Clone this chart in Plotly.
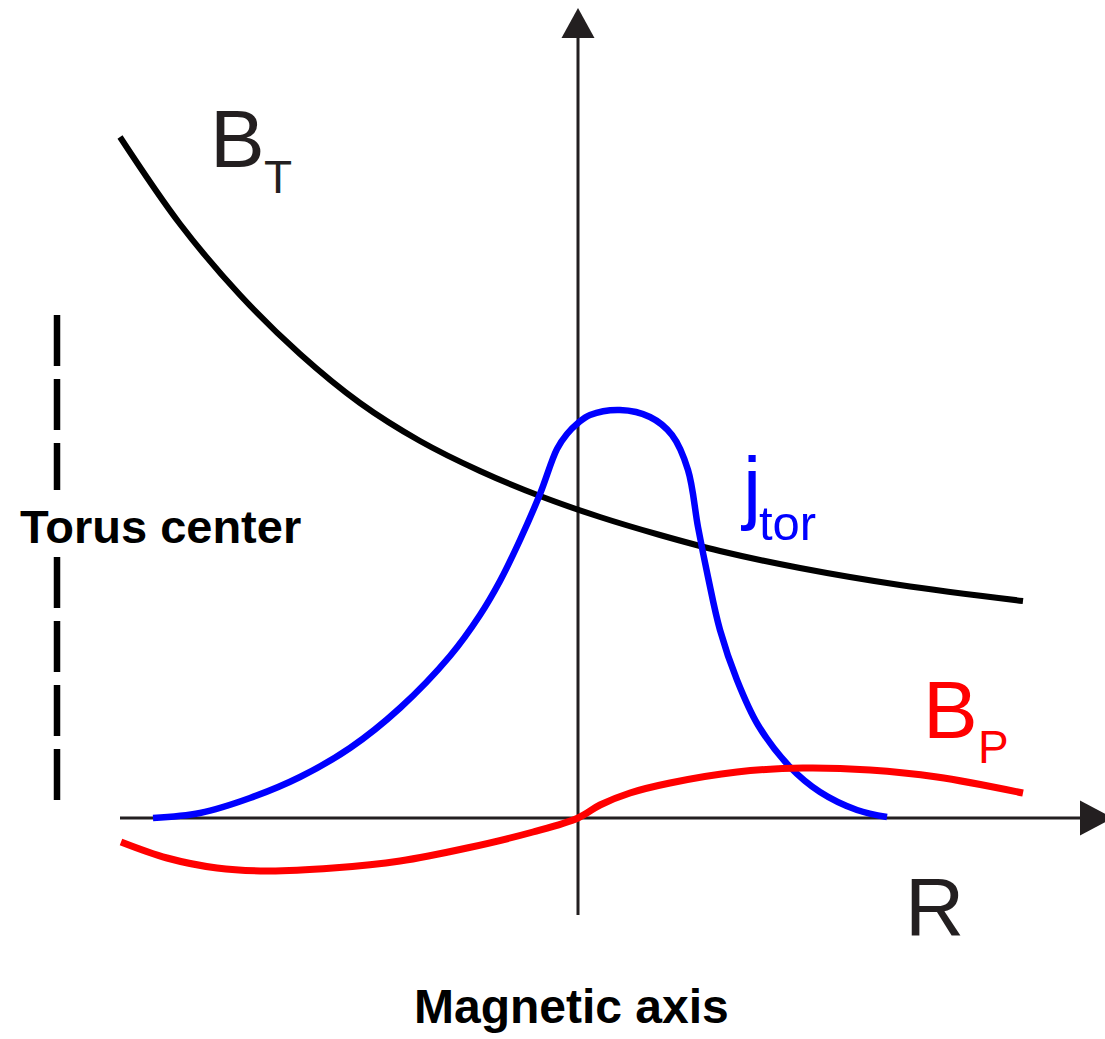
import plotly.graph_objects as go

# Coordinates: origin at the magnetic axis, R to the right, field strength up (arbitrary units)
R_BT = [-4.58, -3.98, -3.38, -2.78, -2.18, -1.58, -0.98, -0.38, 0.22, 0.82, 1.42, 2.22, 3.22, 4.45]
BT = [6.81, 5.94, 5.23, 4.64, 4.15, 3.77, 3.47, 3.22, 3.01, 2.83, 2.67, 2.50, 2.33, 2.17]

R_J = [-4.25, -3.78, -3.28, -2.78, -2.28, -1.78, -1.28, -0.98, -0.78, -0.58, -0.38, -0.21, -0.11,
       0.00, 0.12, 0.42, 0.72, 0.94, 1.10, 1.20, 1.30, 1.42, 1.59, 1.80, 2.12, 2.42, 2.79, 3.09]
J = [0.00, 0.05, 0.20, 0.41, 0.70, 1.10, 1.62, 2.03, 2.37, 2.78, 3.24, 3.69, 3.84,
     3.95, 4.03, 4.08, 4.01, 3.83, 3.48, 2.91, 2.41, 1.88, 1.38, 0.93, 0.51, 0.26, 0.08, 0.01]

R_BP = [-4.57, -4.11, -3.61, -3.11, -2.45, -1.78, -1.11, -0.45, 0.00, 0.22, 0.52, 0.92, 1.59,
        2.25, 2.92, 3.59, 4.45]
BP = [-0.24, -0.40, -0.50, -0.53, -0.50, -0.43, -0.30, -0.14, 0.00, 0.13, 0.25, 0.35, 0.46,
      0.50, 0.48, 0.41, 0.25]

R_AXIS_SPAN = [-4.58, 5.02]
V_AXIS_SPAN = [-0.97, 7.80]
TORUS_CENTER_R = -5.21
TORUS_SEGMENTS = [[5.03, 3.28], [2.61, 0.18]]

AXIS_COLOR = "#231f20"
FONT = "Liberation Sans, Arial, sans-serif"

fig = go.Figure()

# axes
fig.add_trace(go.Scatter(x=R_AXIS_SPAN, y=[0, 0], mode="lines",
                         line=dict(color=AXIS_COLOR, width=3), hoverinfo="skip"))
fig.add_trace(go.Scatter(x=[0, 0], y=V_AXIS_SPAN, mode="lines",
                         line=dict(color=AXIS_COLOR, width=3), hoverinfo="skip"))
# arrowheads
hl, hw = 0.33, 0.175
xe = R_AXIS_SPAN[1]
fig.add_trace(go.Scatter(x=[xe, xe + hl, xe, xe], y=[hw, 0, -hw, hw], mode="lines",
                         fill="toself", fillcolor=AXIS_COLOR, line=dict(color=AXIS_COLOR, width=0),
                         hoverinfo="skip"))
ye = V_AXIS_SPAN[1]
fig.add_trace(go.Scatter(x=[-0.165, 0, 0.165, -0.165], y=[ye, ye + 0.30, ye, ye], mode="lines",
                         fill="toself", fillcolor=AXIS_COLOR, line=dict(color=AXIS_COLOR, width=0),
                         hoverinfo="skip"))

# torus center dashed line
for seg in TORUS_SEGMENTS:
    fig.add_trace(go.Scatter(x=[TORUS_CENTER_R, TORUS_CENTER_R], y=seg, mode="lines",
                             line=dict(color="black", width=6.5, dash="51px,13px"), hoverinfo="skip"))

# curves
fig.add_trace(go.Scatter(x=R_BT, y=BT, mode="lines", name="B_T",
                         line=dict(color="black", width=6, shape="spline", smoothing=1)))
fig.add_trace(go.Scatter(x=R_J, y=J, mode="lines", name="j_tor",
                         line=dict(color="#0000ff", width=6.5, shape="spline", smoothing=1)))
fig.add_trace(go.Scatter(x=R_BP, y=BP, mode="lines", name="B_P",
                         line=dict(color="#ff0000", width=7, shape="spline", smoothing=1)))


def label(x, y, text, size, color, xanchor="left", bold=False):
    fig.add_annotation(x=x, y=y, text=("<b>%s</b>" % text) if bold else text, showarrow=False,
                       xanchor=xanchor, yanchor="middle",
                       font=dict(family=FONT, size=size, color=color))


label(-3.70, 6.80, "B", 82, AXIS_COLOR)
label(-3.16, 6.41, "T", 46, AXIS_COLOR)
label(1.61, 3.33, "j", 82, "#0000ff")
label(1.79, 2.955, "tor", 49, "#0000ff")
label(3.43, 1.09, "B", 82, "#ff0000")
label(3.98, 0.71, "P", 46, "#ff0000")
label(3.25, -0.88, "R", 82, AXIS_COLOR)
label(-4.18, 2.915, "Torus center", 47, "black", xanchor="center", bold=True)
label(-0.07, -1.88, "Magnetic axis", 48, "black", xanchor="center", bold=True)

fig.update_layout(
    width=1105, height=1039,
    margin=dict(l=0, r=0, t=0, b=0),
    paper_bgcolor="white", plot_bgcolor="white",
    showlegend=False,
    xaxis=dict(range=[-5.78, 5.27], visible=False, fixedrange=True),
    yaxis=dict(range=[-2.21, 8.18], visible=False, fixedrange=True),
)

fig.write_html("out.html", config={"displayModeBar": False},
               post_script="document.body.style.margin='0';document.body.style.padding='0';")
